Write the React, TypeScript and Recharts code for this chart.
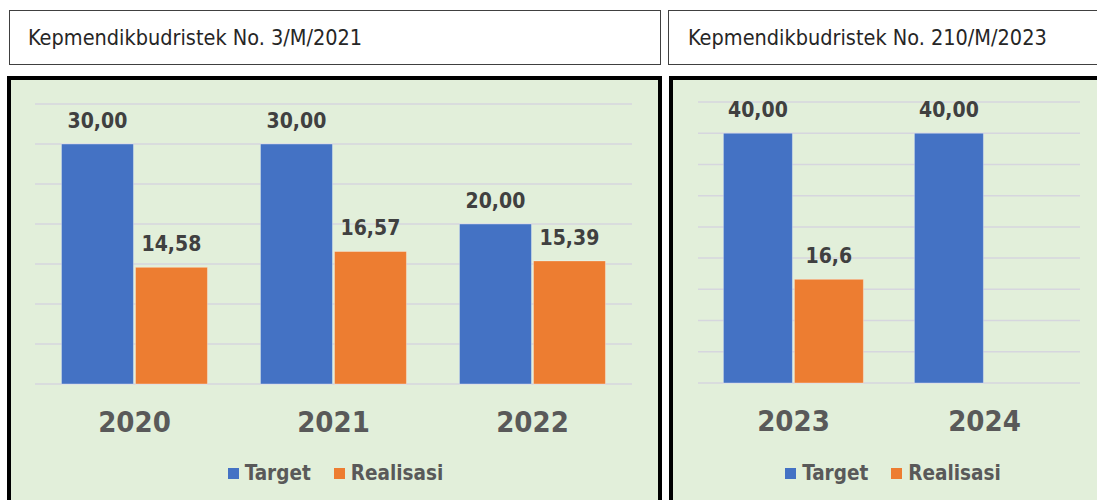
import React from "react";
import {
  BarChart,
  Bar,
  XAxis,
  YAxis,
  CartesianGrid,
  Legend,
  LabelList,
} from "recharts";

// data
const leftYears = ["2020", "2021", "2022"];
const leftTarget = [30, 30, 20];
const leftRealisasi = [14.58, 16.57, 15.39];
const leftTicks = [0, 5, 10, 15, 20, 25, 30, 35];

const rightYears = ["2023", "2024"];
const rightTarget = [40, 40];
const rightRealisasi: (number | null)[] = [16.6, null];
const rightTicks = [0, 5, 10, 15, 20, 25, 30, 35, 40, 45];

const leftTitle = "Kepmendikbudristek No. 3/M/2021";
const rightTitle = "Kepmendikbudristek No. 210/M/2023";

const BLUE = "#4472c4";
const ORANGE = "#ed7d31";
const BG = "#e2efda";
const FONT = '"DejaVu Sans Condensed", "DejaVu Sans", sans-serif';

const leftData = leftYears.map((year, i) => ({
  year,
  target: leftTarget[i],
  realisasi: leftRealisasi[i],
}));

const rightData = rightYears.map((year, i) => ({
  year,
  target: rightTarget[i],
  realisasi: rightRealisasi[i],
}));

const fmt = (decimals: number) => (v: unknown) =>
  v == null || v === "" ? "" : Number(v).toFixed(decimals).replace(".", ",");

const YearTick = (props: any) => {
  const { x, y, payload } = props;
  return (
    <text
      x={x}
      y={y + 48}
      textAnchor="middle"
      fill="#595959"
      fontFamily={FONT}
      fontWeight="bold"
      fontSize={29}
    >
      {payload.value}
    </text>
  );
};

const LegendContent = () => (
  <div
    style={{
      display: "flex",
      justifyContent: "center",
      alignItems: "center",
      fontFamily: FONT,
      fontWeight: "bold",
      fontSize: 20.5,
      lineHeight: "24px",
      color: "#595959",
    }}
  >
    <span style={{ width: 11, height: 11, background: BLUE, marginRight: 6 }} />
    <span style={{ marginRight: 23 }}>Target</span>
    <span style={{ width: 11, height: 11, background: ORANGE, marginRight: 6 }} />
    <span>Realisasi</span>
  </div>
);

const labelStyle = {
  fill: "#404040",
  fontFamily: FONT,
  fontWeight: "bold",
  fontSize: 21,
};

interface PanelProps {
  data: { year: string; target: number; realisasi: number | null }[];
  ticks: number[];
  width: number;
  margin: { top: number; right: number; bottom: number; left: number };
  realisasiDecimals: number;
  legendLeft: number;
}

function Panel({ data, ticks, width, margin, realisasiDecimals, legendLeft }: PanelProps) {
  const plotWidth = width - margin.left - margin.right;
  return (
    <BarChart
      width={width}
      height={500}
      data={data}
      margin={margin}
      barCategoryGap="13.3%"
      barGap={2}
    >
      <CartesianGrid vertical={false} stroke="#d6d6de" strokeWidth={1.5} />
      <XAxis
        dataKey="year"
        axisLine={false}
        tickLine={false}
        tickSize={0}
        tickMargin={0}
        height={30}
        tick={<YearTick />}
      />
      <YAxis hide domain={[0, ticks[ticks.length - 1]]} ticks={ticks} />
      <Legend
        layout="horizontal"
        verticalAlign="middle"
        align="center"
        content={<LegendContent />}
        wrapperStyle={{ top: 461, left: legendLeft, width: plotWidth }}
      />
      <Bar dataKey="target" fill={BLUE} stroke="rgba(255,255,255,0.35)" isAnimationActive={false}>
        <LabelList dataKey="target" position="top" offset={16} formatter={fmt(2)} {...labelStyle} />
      </Bar>
      <Bar dataKey="realisasi" fill={ORANGE} stroke="rgba(255,255,255,0.35)" isAnimationActive={false}>
        <LabelList
          dataKey="realisasi"
          position="top"
          offset={16}
          formatter={fmt(realisasiDecimals)}
          {...labelStyle}
        />
      </Bar>
    </BarChart>
  );
}

const headerStyle: React.CSSProperties = {
  position: "absolute",
  top: 10,
  height: 53,
  border: "1.5px solid #404040",
  background: "#fff",
  fontFamily: FONT,
  fontSize: 21.5,
  color: "#262626",
  display: "flex",
  alignItems: "center",
  boxSizing: "content-box",
};

export default function App() {
  return (
    <div
      style={{
        position: "absolute",
        left: 0,
        top: 0,
        width: 1097,
        height: 500,
        overflow: "hidden",
        background: "#fff",
      }}
    >
      <div style={{ ...headerStyle, left: 9, width: 650 }}>
        <span style={{ marginLeft: 18 }}>{leftTitle}</span>
      </div>
      <div style={{ ...headerStyle, left: 668, width: 460 }}>
        <span style={{ marginLeft: 19 }}>{rightTitle}</span>
      </div>

      <div
        style={{
          position: "absolute",
          left: 7,
          top: 76,
          width: 647,
          height: 440,
          border: "4px solid #000",
          background: BG,
        }}
      />
      <div
        style={{
          position: "absolute",
          left: 669,
          top: 76,
          width: 460,
          height: 440,
          border: "4px solid #000",
          background: BG,
        }}
      />

      <div style={{ position: "absolute", left: 0, top: 0 }}>
        <Panel
          data={leftData}
          ticks={leftTicks}
          width={662}
          margin={{ top: 104, right: 30, bottom: 86, left: 35 }}
          realisasiDecimals={2}
          legendLeft={37}
        />
      </div>
      <div style={{ position: "absolute", left: 669, top: 0 }}>
        <Panel
          data={rightData}
          ticks={rightTicks}
          width={428}
          margin={{ top: 102, right: 17, bottom: 87, left: 29 }}
          realisasiDecimals={1}
          legendLeft={33}
        />
      </div>
    </div>
  );
}
